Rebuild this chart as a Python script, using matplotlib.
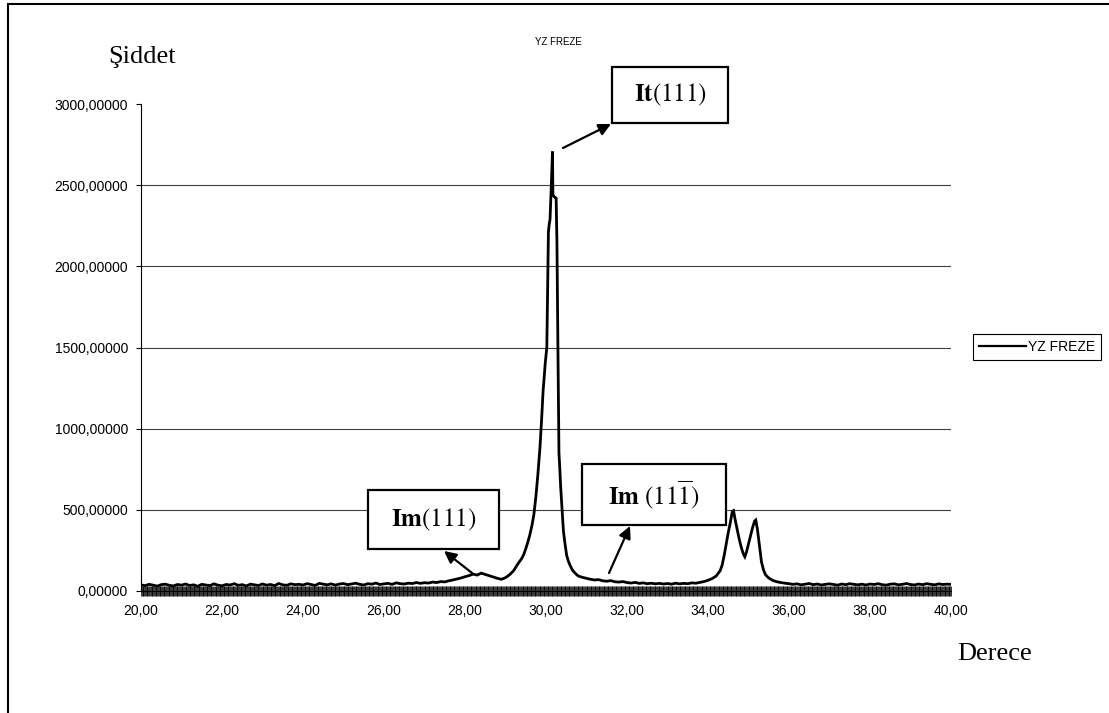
import matplotlib
matplotlib.use("Agg")
import matplotlib.pyplot as plt
from matplotlib.patches import Rectangle, FancyArrowPatch
from matplotlib.ticker import FixedLocator, FuncFormatter, MultipleLocator

plt.rcParams["mathtext.fontset"] = "stix"

# --- data: diffraction scan (2-theta in degrees, intensity in counts) ---
two_theta = [
    20.0, 20.1, 20.2, 20.3, 20.4, 20.5, 20.6, 20.7, 20.8, 20.9,
    21.0, 21.1, 21.2, 21.3, 21.4, 21.5, 21.6, 21.7, 21.8, 21.9,
    22.0, 22.1, 22.2, 22.3, 22.4, 22.5, 22.6, 22.7, 22.8, 22.9,
    23.0, 23.1, 23.2, 23.3, 23.4, 23.5, 23.6, 23.7, 23.8, 23.9,
    24.0, 24.1, 24.2, 24.3, 24.4, 24.5, 24.6, 24.7, 24.8, 24.9,
    25.0, 25.1, 25.2, 25.3, 25.4, 25.5, 25.6, 25.7, 25.8, 25.9,
    26.0, 26.1, 26.2, 26.3, 26.4, 26.5, 26.6, 26.7, 26.8, 26.9,
    27.0, 27.1, 27.2, 27.3, 27.4, 27.5, 27.6, 27.7, 27.8, 27.9,
    28.0, 28.1, 28.2, 28.3, 28.4, 28.5, 28.6, 28.7, 28.8, 28.9,
    29.0, 29.1, 29.2, 29.3, 29.4, 29.45, 29.5, 29.55, 29.6, 29.65,
    29.7, 29.75, 29.8, 29.85, 29.89, 29.93, 29.95, 29.98, 30.02, 30.04,
    30.06, 30.08, 30.1, 30.12, 30.14, 30.16, 30.17, 30.2, 30.22, 30.25,
    30.27, 30.28, 30.3, 30.32, 30.34, 30.36, 30.39, 30.43, 30.47, 30.51,
    30.55, 30.59, 30.65, 30.7, 30.76, 30.8, 30.9,
    31.0, 31.1, 31.2, 31.3, 31.4, 31.5, 31.6, 31.7, 31.8, 31.9,
    32.0, 32.1, 32.2, 32.3, 32.4, 32.5, 32.6, 32.7, 32.8, 32.9,
    33.0, 33.1, 33.2, 33.3, 33.4, 33.5, 33.6, 33.7, 33.8, 33.9,
    34.0, 34.1, 34.2, 34.3, 34.35, 34.4, 34.45, 34.5, 34.55, 34.6,
    34.63, 34.67, 34.72, 34.77, 34.82, 34.87, 34.91, 34.95, 35.0, 35.05,
    35.1, 35.15, 35.18, 35.22, 35.27, 35.32, 35.37, 35.42, 35.5, 35.6,
    35.7, 35.8, 35.9,
    36.0, 36.1, 36.2, 36.3, 36.4, 36.5, 36.6, 36.7, 36.8, 36.9,
    37.0, 37.1, 37.2, 37.3, 37.4, 37.5, 37.6, 37.7, 37.8, 37.9,
    38.0, 38.1, 38.2, 38.3, 38.4, 38.5, 38.6, 38.7, 38.8, 38.9,
    39.0, 39.1, 39.2, 39.3, 39.4, 39.5, 39.6, 39.7, 39.8, 39.9,
    40.0,
]
intensity = [
    38, 33, 41, 36, 30, 39, 42, 35, 31, 40,
    36, 43, 34, 38, 29, 41, 37, 33, 44, 36,
    32, 40, 37, 45, 35, 39, 31, 42, 38, 34,
    43, 36, 40, 33, 46, 38, 35, 44, 39, 41,
    37, 45, 40, 34, 47, 42, 38, 44, 36, 43,
    46, 39, 43, 48, 41, 37, 45, 42, 49, 40,
    44, 47, 41, 50, 45, 43, 48, 46, 52, 47,
    51, 49, 55, 52, 58, 56, 63, 68, 74, 80,
    88, 95, 104, 98, 110, 102, 94, 86, 78, 72,
    82, 100, 125, 165, 200, 225, 260, 300, 345, 400,
    470, 580, 720, 880, 1050, 1240, 1300, 1400, 1500, 1870,
    2215, 2260, 2290, 2420, 2560, 2707, 2440, 2430, 2425, 2420,
    2150, 1870, 1350, 850, 760, 650, 530, 370, 290, 220,
    185, 160, 130, 115, 100, 92, 84,
    78, 72, 68, 70, 63, 60, 64, 57, 55, 58,
    52, 49, 53, 47, 50, 45, 48, 44, 47, 43,
    46, 42, 48, 44, 47, 45, 50, 48, 53, 58,
    66, 76, 92, 125, 160, 220, 290, 360, 420, 490,
    495, 440, 380, 320, 270, 230, 211, 240, 290, 340,
    390, 430, 437, 380, 280, 180, 130, 100, 80, 65,
    57, 52, 48,
    45, 41, 44, 38, 42, 46, 39, 43, 37, 41,
    44, 40, 36, 43, 39, 45, 41, 38, 42, 37,
    43, 40, 45, 39, 36, 42, 44, 38, 41, 46,
    40, 37, 43, 39, 45, 41, 38, 44, 40, 42,
    41,
]

series_name = "YZ FREZE"
chart_title = "YZ FREZE"
y_label = "Şiddet"
x_label = "Derece"
x_major = [20, 22, 24, 26, 28, 30, 32, 34, 36, 38, 40]
y_major = [0, 500, 1000, 1500, 2000, 2500, 3000]
grid_levels = [500, 1000, 1500, 2000, 2500]

W, H = 1109, 713
fig = plt.figure(figsize=(W / 100, H / 100), dpi=100)


def fx(px):
    return px / W


def fy(py):
    return 1 - py / H


ax = fig.add_axes([fx(141), fy(591), fx(951) - fx(141), fy(104) - fy(591)])
ax.set_xlim(20, 40)
ax.set_ylim(0, 3000)

for lvl in grid_levels:
    ax.axhline(lvl, color="#404040", lw=0.8, zorder=1)

line, = ax.plot(two_theta, intensity, color="black", lw=2.0, zorder=3,
                solid_joinstyle="miter", label=series_name)

for side in ("top", "right"):
    ax.spines[side].set_visible(False)
ax.spines["left"].set_linewidth(0.8)
ax.spines["bottom"].set_linewidth(0.8)

tick_font = dict(family="Liberation Sans", size=10)
ax.xaxis.set_major_locator(FixedLocator(x_major))
ax.xaxis.set_minor_locator(MultipleLocator(0.02))
ax.yaxis.set_major_locator(FixedLocator(y_major))
ax.xaxis.set_major_formatter(FuncFormatter(lambda v, p: f"{v:.2f}".replace(".", ",")))
ax.yaxis.set_major_formatter(FuncFormatter(lambda v, p: f"{v:.5f}".replace(".", ",")))
ax.tick_params(axis="x", which="both", direction="inout", length=6.5, width=0.55,
               pad=6, color="black")
ax.tick_params(axis="y", which="major", direction="out", length=3.6, width=0.8, pad=5.8)
for lab in ax.get_xticklabels() + ax.get_yticklabels():
    lab.set_fontfamily(tick_font["family"])
    lab.set_fontsize(tick_font["size"])

# title and axis captions
fig.text(fx(558), fy(42), chart_title, ha="center", va="center",
         family="Liberation Sans", fontsize=7)
fig.text(fx(108), fy(63), y_label, ha="left", va="baseline",
         family="Liberation Serif", fontsize=19)
fig.text(fx(957), fy(660), x_label, ha="left", va="baseline",
         family="Liberation Serif", fontsize=19)

# legend
fig.legend(handles=[line], labels=[series_name], loc="center left",
           bbox_to_anchor=(fx(973), fy(347)), borderaxespad=0, frameon=True,
           fancybox=False, edgecolor="black", framealpha=1,
           prop=dict(family="Liberation Sans", size=10),
           handlelength=3.4, handletextpad=0.1, borderpad=0.45)
fig.legends[0].get_frame().set_linewidth(0.8)
fig.legends[0].get_lines()[0].set_linewidth(1.6)


# labelled peak call-outs
def callout(box, text, tail, head, size=18):
    x0, y0, x1, y1 = box
    fig.patches.append(Rectangle((fx(x0), fy(y1)), fx(x1) - fx(x0), fy(y0) - fy(y1),
                                 transform=fig.transFigure, facecolor="white",
                                 edgecolor="black", lw=1.6, zorder=5))
    fig.text(fx((x0 + x1) / 2), fy((y0 + y1) / 2), text, ha="center", va="center",
             fontsize=size, zorder=6)
    fig.patches.append(FancyArrowPatch((fx(tail[0]), fy(tail[1])), (fx(head[0]), fy(head[1])),
                                       transform=fig.transFigure, arrowstyle="-|>",
                                       mutation_scale=18, lw=1.6, color="black",
                                       shrinkA=0, shrinkB=0, zorder=6))


callout((612, 67, 728, 123), r"$\mathbf{It}(111)$", (563, 148), (611, 124))
callout((368, 490, 499, 549), r"$\mathbf{Im}(111)$", (472, 573), (444, 551))
callout((582, 464, 726, 525), r"$\mathbf{Im}\ (11\overline{1})$", (609, 573), (630, 526))

# outer frame of the chart area
fig.patches.append(Rectangle((fx(8), fy(730)), fx(1130) - fx(8), fy(4) - fy(730),
                             transform=fig.transFigure, fill=False,
                             edgecolor="black", lw=1.5, zorder=0))

fig.savefig("out.png", dpi=100)
